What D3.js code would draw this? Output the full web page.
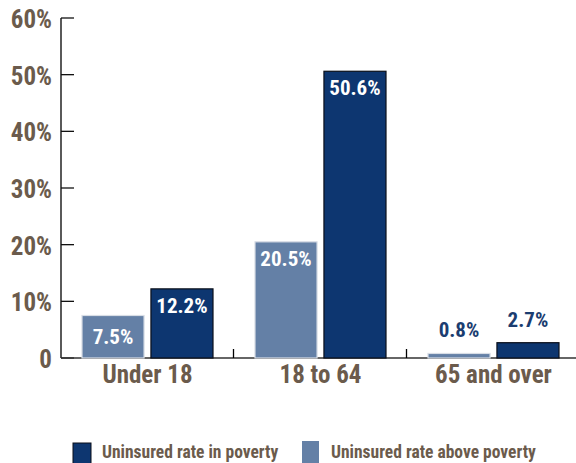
<!DOCTYPE html>
<html><head><meta charset="utf-8">
<script src="https://cdn.jsdelivr.net/npm/d3@7"></script>
<style>
body{margin:0;background:#fff;}
text{font-family:"Liberation Sans Narrow","Arial Narrow","Roboto Condensed",sans-serif;font-weight:bold;}
</style></head>
<body><svg id="c" width="576" height="463"></svg>
<script>
const categories = ["Under 18", "18 to 64", "65 and over"];
const seriesNames = ["Uninsured rate above poverty", "Uninsured rate in poverty"];
const abovePoverty = [7.5, 20.5, 0.8];
const inPoverty = [12.2, 50.6, 2.7];
const yTicks = [0, 10, 20, 30, 40, 50, 60];
const legendOrder = ["Uninsured rate in poverty", "Uninsured rate above poverty"];

const colors = {"Uninsured rate above poverty":"#6480a6","Uninsured rate in poverty":"#0d3670"};
const brown = "#6b5b4c";
const svg = d3.select("#c");
const x0 = d3.scaleBand().domain(categories).range([61, 580]).paddingInner(0).paddingOuter(0);
const x1 = d3.scaleBand().domain(seriesNames).range([21, 152]).paddingInner(0.1);
const y = d3.scaleLinear().domain([0, 60]).range([358, 18]);

// y axis
svg.append("line").attr("x1",61).attr("x2",61).attr("y1",y(60)).attr("y2",y(0)).attr("stroke","#000").attr("stroke-width",1.3);
svg.selectAll(".yt").data(yTicks).enter().append("line")
  .attr("x1",61).attr("x2",74).attr("y1",d=>y(d)).attr("y2",d=>y(d)).attr("stroke","#111").attr("stroke-width",1.3);
svg.selectAll(".yl").data(yTicks).enter().append("text")
  .attr("x",52).attr("y",d=>y(d)+10).attr("text-anchor","end").attr("font-size",25).attr("fill",brown)
  .text(d=>d===0?"0":d+"%");
// baseline
svg.append("line").attr("x1",61).attr("x2",576).attr("y1",y(0)).attr("y2",y(0)).attr("stroke","#333").attr("stroke-width",1.3);
// separators
svg.selectAll(".sep").data(categories.slice(1)).enter().append("line")
  .attr("x1",d=>x0(d)-0.5).attr("x2",d=>x0(d)-0.5).attr("y1",y(0)).attr("y2",y(0)-9).attr("stroke","#000").attr("stroke-width",1.3);

const data = [];
categories.forEach((c,i)=>{
  data.push({c, s:seriesNames[0], v:abovePoverty[i]});
  data.push({c, s:seriesNames[1], v:inPoverty[i]});
});
svg.selectAll(".bar").data(data).enter().append("rect")
  .attr("x",d=>x0(d.c)+x1(d.s)).attr("width",x1.bandwidth())
  .attr("y",d=>y(d.v)).attr("height",d=>y(0)-y(d.v))
  .attr("fill",d=>colors[d.s])
  .attr("stroke",d=>d.s===seriesNames[1]?"#0a0f1a":"#d8dde5").attr("stroke-width",1.2);

svg.selectAll(".vl").data(data).enter().append("text")
  .attr("x",d=>x0(d.c)+x1(d.s)+x1.bandwidth()/2)
  .attr("y",d=>{
    const top=y(d.v), h=y(0)-top;
    if (h<30) return top-23+7;
    if (h<50) return (top+y(0))/2+7;
    return top+17+7;
  })
  .attr("text-anchor","middle").attr("font-size",21)
  .attr("fill",d=>(y(0)-y(d.v))<30?"#1b3d70":"#fff")
  .text(d=>d.v.toFixed(1)+"%");

svg.selectAll(".cl").data(categories).enter().append("text")
  .attr("x",d=>x0(d)+x0.bandwidth()/2).attr("y",383).attr("text-anchor","middle")
  .attr("font-size",25).attr("fill",brown).text(d=>d);

// legend
const lg = svg.append("g");
const lx = [73, 302];
legendOrder.forEach((s,i)=>{
  lg.append("rect").attr("x",lx[i]).attr("y",i===0?443:441).attr("width",i===0?18:17).attr("height",24)
    .attr("fill",colors[s]).attr("stroke",i===0?"#0a0f1a":"none");
  lg.append("text").attr("x",lx[i]+29).attr("y",458).attr("font-size",17.5).attr("fill",brown).text(s);
});
</script></body></html>
